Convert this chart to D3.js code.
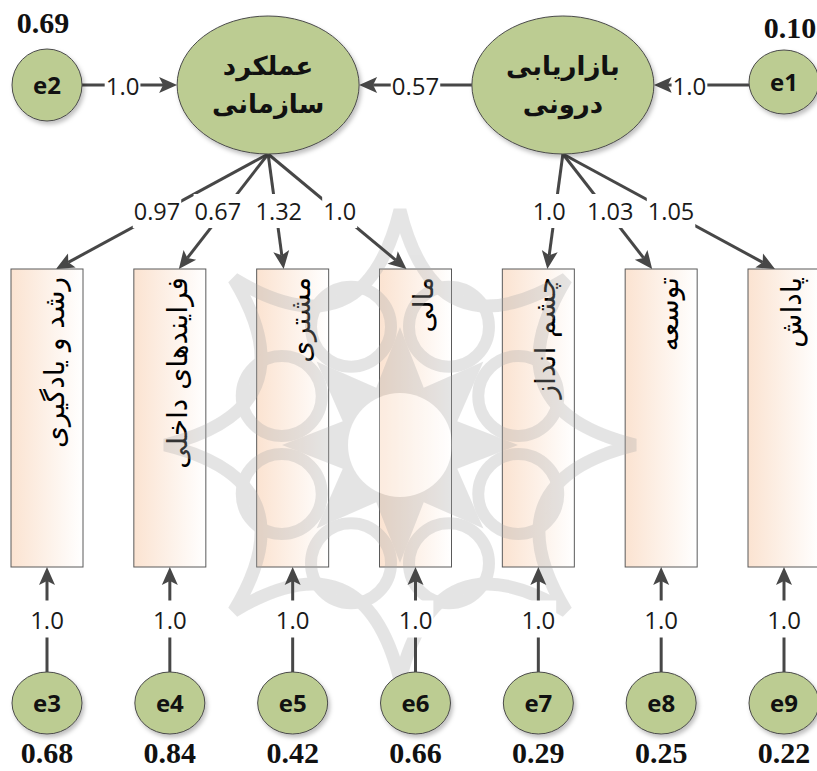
<!DOCTYPE html>
<html>
<head>
<meta charset="utf-8">
<script src="https://cdn.jsdelivr.net/npm/d3@7"></script>
<style>
  html, body { margin: 0; padding: 0; background: #fff; overflow: hidden; }
</style>
</head>
<body>
<svg id="chart" width="817" height="771"></svg>
<script>
// ---- model values ----
const latentNames = [["عملکرد", "سازمانی"], ["بازاریابی", "درونی"]];
const latentErrors = ["e2", "e1"];
const latentErrorPaths = ["1.0", "1.0"];
const latentErrorVariances = ["0.69", "0.10"];
const structuralPath = "0.57";

const indicators = ["رشد و یادگیری", "فرایندهای داخلی", "مشتری", "مالی", "چشم انداز", "توسعه", "پاداش"];
const indicatorLatent = [0, 0, 0, 0, 1, 1, 1];
const loadings = ["0.97", "0.67", "1.32", "1.0", "1.0", "1.03", "1.05"];
const indicatorErrors = ["e3", "e4", "e5", "e6", "e7", "e8", "e9"];
const indicatorErrorPaths = ["1.0", "1.0", "1.0", "1.0", "1.0", "1.0", "1.0"];
const indicatorErrorVariances = ["0.68", "0.84", "0.42", "0.66", "0.29", "0.25", "0.22"];

// ---- layout ----
const svg = d3.select('#chart');
const x = d3.scaleLinear().domain([0, 6]).range([47, 784]);   // column units -> px
const col = d3.scalePoint().domain(indicators).range([0, 6]);
const latentCol = [1.8, 4.2];
const latentErrCol = [0, 6];

const topY = 85, latRx = 91, latRy = 69;
const boxTop = 269, boxBottom = 567, boxW = 72;
const errY = 703, errRx = 35, errRy = 31;
const loadLabelY = 211, errLabelY = 619;

const LINE = '#474747';
const NODE = '#bccc92';
const SANS = 'Open Sans, Lato, sans-serif';
const ARAB = 'DejaVu Sans, sans-serif';
const SERIF = 'Liberation Serif, Times New Roman, serif';

const defs = svg.append('defs');
const grad = defs.append('linearGradient').attr('id', 'boxFill')
    .attr('x1', '0%').attr('x2', '100%').attr('y1', '0%').attr('y2', '0%');
grad.append('stop').attr('offset', '0%').attr('stop-color', '#fbe3d1');
grad.append('stop').attr('offset', '100%').attr('stop-color', '#ffffff');
const sh = defs.append('filter').attr('id', 'shadow')
    .attr('x', '-20%').attr('y', '-20%').attr('width', '150%').attr('height', '150%');
sh.append('feDropShadow').attr('dx', 2).attr('dy', 3).attr('stdDeviation', 2)
    .attr('flood-color', '#000').attr('flood-opacity', 0.25);

function arrow(g, x1, y1, x2, y2, o = {}) {
  const hl = o.hl || 18, hw = o.hw || 8, c = o.color || LINE;
  const len = Math.hypot(x2 - x1, y2 - y1), ux = (x2 - x1) / len, uy = (y2 - y1) / len;
  const bx = x2 - ux * hl, by = y2 - uy * hl;
  g.append('line').attr('x1', x1).attr('y1', y1).attr('x2', bx + ux * 4).attr('y2', by + uy * 4)
      .attr('stroke', c).attr('stroke-width', o.w || 3);
  g.append('path')
      .attr('d', `M${x2},${y2}L${bx - uy * hw},${by + ux * hw}L${bx + ux * 4},${by + uy * 4}L${bx + uy * hw},${by - ux * hw}Z`)
      .attr('fill', c);
}

function pathLabel(g, txt, cx, cy, o = {}) {
  const lg = g.append('g');
  const r = lg.append('rect').attr('fill', '#fff');
  const t = lg.append('text').attr('x', cx).attr('y', cy)
      .attr('text-anchor', 'middle').attr('dominant-baseline', 'central')
      .attr('font-family', SANS).attr('font-size', o.size || 24).attr('fill', '#1a1a1a')
      .text(txt);
  const bb = t.node().getBBox();
  const px = o.px == null ? 1 : o.px, py = o.py == null ? 0 : o.py;
  r.attr('x', bb.x - px).attr('y', bb.y - py).attr('width', bb.width + 2 * px).attr('height', bb.height + 2 * py);
}

// ---- indicator boxes ----
const gBoxes = svg.append('g');
indicators.forEach((name, i) => {
  const cx = x(col(name));
  gBoxes.append('rect')
      .attr('x', cx - boxW / 2).attr('y', boxTop).attr('width', boxW).attr('height', boxBottom - boxTop)
      .attr('fill', 'url(#boxFill)').attr('stroke', '#5a5a5a').attr('stroke-width', 1);
});

// ---- faint rosette watermark ----
const wm = svg.append('g').attr('opacity', 0.3).attr('transform', 'translate(400,445)');
const WM = '#a9a9a9';
(function () {
  let d = '';
  for (let k = 0; k < 8; k++) {
    const a0 = (k * 45 - 90) * Math.PI / 180, a1 = ((k + 1) * 45 - 90) * Math.PI / 180, am = (a0 + a1) / 2;
    const p0 = [235 * Math.cos(a0), 235 * Math.sin(a0)], p1 = [235 * Math.cos(a1), 235 * Math.sin(a1)];
    const cp = [95 * Math.cos(am), 95 * Math.sin(am)];
    d += (k === 0 ? `M${p0}` : '') + `Q${cp} ${p1}`;
  }
  wm.append('path').attr('d', d + 'Z').attr('fill', 'none').attr('stroke', WM).attr('stroke-width', 13);
  for (let k = 0; k < 8; k++) {
    const a = (k * 45 - 67.5) * Math.PI / 180;
    wm.append('circle').attr('cx', 128 * Math.cos(a)).attr('cy', 128 * Math.sin(a)).attr('r', 40)
        .attr('fill', 'none').attr('stroke', WM).attr('stroke-width', 12);
  }
  let s = '';
  for (let k = 0; k < 16; k++) {
    const a = (k * 22.5 - 90) * Math.PI / 180, r = k % 2 ? 62 : 118;
    s += (k ? 'L' : 'M') + [r * Math.cos(a), r * Math.sin(a)];
  }
  wm.append('path').attr('d', s + 'Z').attr('fill', WM);
  wm.append('circle').attr('r', 52).attr('fill', '#fff');
})();

// ---- box labels (rotated) ----
indicators.forEach((name, i) => {
  const cx = x(col(name)) + 17, ty = boxTop + 8;
  gBoxes.append('text')
      .attr('transform', `translate(${cx},${ty}) rotate(-90)`)
      .attr('text-anchor', 'end')
      .attr('font-family', ARAB).attr('font-size', 28).attr('fill', '#000')
      .text(name);
});

const gPaths = svg.append('g');

// ---- loadings: latent -> indicator ----
indicators.forEach((name, i) => {
  const lat = indicatorLatent[i];
  const sx = x(latentCol[lat]), sy = topY + latRy;
  const cx = x(col(name));
  const side = Math.sign(sx - cx);
  const ex = cx + side * 9, ey = boxTop;
  arrow(gPaths, sx, sy, ex, ey, { w: 3 });
  const t = (loadLabelY - sy) / (ey - sy);
  const nudge = side > 0 ? -6 : 3;
  pathLabel(gPaths, loadings[i], sx + (ex - sx) * t + nudge, loadLabelY, { px: 1, py: 1, size: 23.5 });
});

// ---- indicator errors -> indicators ----
indicators.forEach((name, i) => {
  const cx = x(col(name));
  arrow(gPaths, cx, errY - errRy, cx, boxBottom, { w: 3 });
  pathLabel(gPaths, indicatorErrorPaths[i], cx, errLabelY, { px: 1, py: 2 });
});

// ---- latent errors -> latents, and structural path ----
latentErrors.forEach((e, j) => {
  const ex = x(latentErrCol[j]), lx = x(latentCol[j]);
  const dir = Math.sign(lx - ex);
  arrow(gPaths, ex + dir * 35, topY, lx - dir * latRx, topY, { w: 3 });
  pathLabel(gPaths, latentErrorPaths[j], (ex + lx - dir * (latRx - 35)) / 2 + (j === 0 ? -7 : -12), topY, { px: 1 });
});
arrow(gPaths, x(latentCol[1]) - latRx, topY, x(latentCol[0]) + latRx, topY, { w: 3 });
pathLabel(gPaths, structuralPath, (x(latentCol[0]) + x(latentCol[1])) / 2, topY, { px: 1 });

// ---- latent ellipses ----
const gNodes = svg.append('g');
latentNames.forEach((lines, j) => {
  const cx = x(latentCol[j]);
  gNodes.append('ellipse').attr('cx', cx).attr('cy', topY).attr('rx', latRx).attr('ry', latRy)
      .attr('fill', NODE).attr('stroke', '#4a4a4a').attr('stroke-width', 1).attr('filter', 'url(#shadow)');
  lines.forEach((ln, k) => {
    gNodes.append('text').attr('x', cx).attr('y', topY - 10 + k * 38)
        .attr('text-anchor', 'middle').attr('font-family', ARAB).attr('font-weight', 'bold')
        .attr('font-size', 26).attr('fill', '#111').text(ln);
  });
});

// ---- error circles ----
latentErrors.forEach((e, j) => {
  const cx = x(latentErrCol[j]);
  gNodes.append('ellipse').attr('cx', cx).attr('cy', topY - (j ? 3 : 0)).attr('rx', 35).attr('ry', j ? 32 : 36)
      .attr('fill', NODE).attr('stroke', '#4a4a4a').attr('stroke-width', 1).attr('filter', 'url(#shadow)');
  gNodes.append('text').attr('x', cx).attr('y', topY - (j ? 3 : 0)).attr('dy', '0.36em')
      .attr('text-anchor', 'middle').attr('font-family', SANS).attr('font-weight', 'bold')
      .attr('font-size', 24).attr('fill', '#111').text(e);
  gNodes.append('text').attr('x', cx - (j ? -6 : 4)).attr('y', j ? 38 : 33)
      .attr('text-anchor', 'middle').attr('font-family', SERIF).attr('font-weight', 'bold')
      .attr('font-size', 30).attr('fill', '#111').text(latentErrorVariances[j]);
});

indicators.forEach((name, i) => {
  const cx = x(col(name));
  gNodes.append('ellipse').attr('cx', cx).attr('cy', errY).attr('rx', errRx).attr('ry', errRy)
      .attr('fill', NODE).attr('stroke', '#4a4a4a').attr('stroke-width', 1).attr('filter', 'url(#shadow)');
  gNodes.append('text').attr('x', cx).attr('y', errY).attr('dy', '0.36em')
      .attr('text-anchor', 'middle').attr('font-family', SANS).attr('font-weight', 'bold')
      .attr('font-size', 24).attr('fill', '#111').text(indicatorErrors[i]);
  gNodes.append('text').attr('x', cx).attr('y', 763)
      .attr('text-anchor', 'middle').attr('font-family', SERIF).attr('font-weight', 'bold')
      .attr('font-size', 30).attr('fill', '#111').text(indicatorErrorVariances[i]);
});
</script>
</body>
</html>
